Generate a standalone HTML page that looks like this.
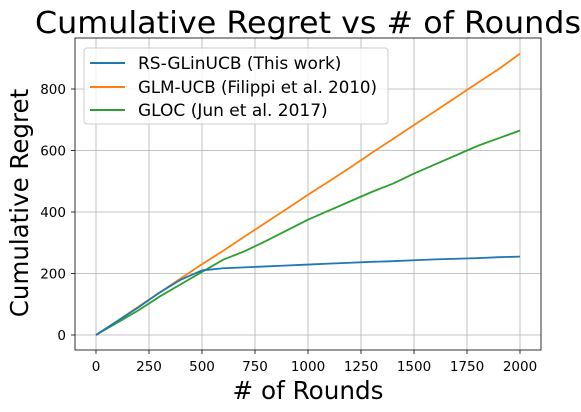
<!DOCTYPE html>
<html><head><meta charset="utf-8"><style>
html,body{margin:0;padding:0;background:#fff;}
svg{display:block;font-family:"DejaVu Sans","Liberation Sans",sans-serif;}
</style></head><body>
<svg id="chart" width="581" height="412">
<text x="308" y="33" text-anchor="middle" font-size="30" textLength="546" lengthAdjust="spacingAndGlyphs">Cumulative Regret vs # of Rounds</text>
<g id="grid"></g>
<g id="series"></g>
<rect x="75" y="38" width="466" height="312" fill="none" stroke="#000" stroke-width="0.8"/>
<g id="ticks"></g>
<text x="308" y="399" text-anchor="middle" font-size="24.5" textLength="151" lengthAdjust="spacingAndGlyphs"># of Rounds</text>
<text transform="translate(28,203) rotate(-90)" text-anchor="middle" font-size="24.5">Cumulative Regret</text>
<g>
<rect x="84" y="48" width="304" height="76" rx="3" fill="#fff" fill-opacity="0.8" stroke="#ccc"/>
<line x1="90" y1="63" x2="125" y2="63" stroke="#1f77b4" stroke-width="2"/>
<text x="138" y="69" font-size="17">RS-GLinUCB (This work)</text>
<line x1="90" y1="87" x2="125" y2="87" stroke="#ff7f0e" stroke-width="2"/>
<text x="138" y="93" font-size="17" textLength="239" lengthAdjust="spacingAndGlyphs">GLM-UCB (Filippi et al. 2010)</text>
<line x1="90" y1="110" x2="125" y2="110" stroke="#2ca02c" stroke-width="2"/>
<text x="138" y="116" font-size="17">GLOC (Jun et al. 2017)</text>
</g>
</svg>
<script>
const rounds = [0,100,200,300,400,500,600,700,800,900,1000,1100,1200,1300,1400,1500,1600,1700,1800,1900,2000];
const blueVals = [0,45,90,138,180,210,217,220,223,226,229,232,235,238,240,243,246,248,250,253,255];
const orangeVals = [0,45,92,138,184,230,274,320,365,410,456,500,545,592,637,683,728,774,820,865,915];
const greenVals = [0,40,80,125,165,205,245,272,305,340,375,405,435,465,492,525,555,585,615,640,665];
const xTicks = [0,250,500,750,1000,1250,1500,1750,2000];
const yTicks = [0,200,400,600,800];
const NS="http://www.w3.org/2000/svg";
const xs = v => 96 + v*0.212;
const ys = v => 335 - v*0.3075;
const grid=document.getElementById('grid'), ticks=document.getElementById('ticks'), ser=document.getElementById('series');
function mk(tag,attrs,parent){const e=document.createElementNS(NS,tag);for(const k in attrs)e.setAttribute(k,attrs[k]);parent.appendChild(e);return e;}
xTicks.forEach(t=>{
  const g=mk('line',{x1:xs(t),x2:xs(t),y1:38,y2:350,stroke:'#b0b0b0','stroke-width':0.8},grid);
  
  
  mk('line',{x1:xs(t),x2:xs(t),y1:350,y2:354,stroke:'#000','stroke-width':0.8},ticks);
  const tx=mk('text',{x:xs(t),y:371,'text-anchor':'middle','font-size':13.5},ticks);
  tx.textContent=t;
  
  
});
yTicks.forEach(t=>{
  const g=mk('line',{x1:75,x2:541,y1:ys(t),y2:ys(t),stroke:'#b0b0b0','stroke-width':0.8},grid);
  
  
  mk('line',{x1:71,x2:75,y1:ys(t),y2:ys(t),stroke:'#000','stroke-width':0.8},ticks);
  const tx=mk('text',{x:66,y:ys(t)+5,'text-anchor':'end','font-size':13.5},ticks);
  tx.textContent=t;
  
  
});
[[orangeVals,'#ff7f0e','glm-ucb-line'],[greenVals,'#2ca02c','gloc-line'],[blueVals,'#1f77b4','rs-glinucb-line']].forEach(([vals,c,n])=>{
  const p=mk('polyline',{points:vals.map((v,i)=>xs(rounds[i])+','+ys(v)).join(' '),fill:'none',stroke:c,'stroke-width':1.8},ser);
  
  
});
</script>
</body></html>
